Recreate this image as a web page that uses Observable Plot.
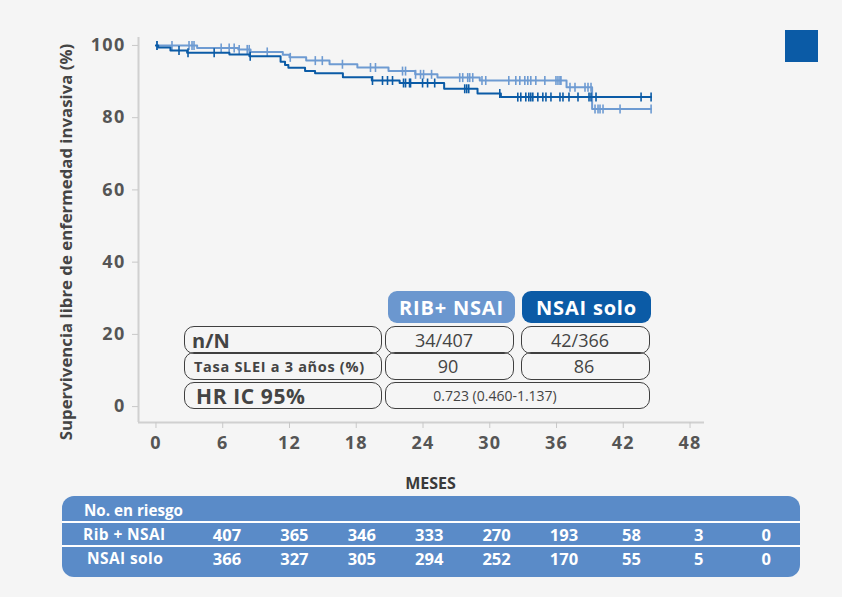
<!DOCTYPE html>
<html>
<head>
<meta charset="utf-8">
<script src="https://cdn.jsdelivr.net/npm/d3@7"></script>
<script src="https://cdn.jsdelivr.net/npm/@observablehq/plot@0.6"></script>
<style>
  html, body { margin: 0; padding: 0; background: #f5f5f5; }
  #wrap { position: relative; width: 842px; height: 597px; overflow: hidden; font-family: 'Open Sans', sans-serif; }
  #wrap svg { position: absolute; left: 0; top: 0; }
  .abs { position: absolute; box-sizing: border-box; display: flex; align-items: center; }
  .box { border: 1.6px solid #3f3f3f; border-radius: 10px; }
  [aria-label="y-axis tick label"] text, [aria-label="x-axis tick label"] text { letter-spacing: 1.3px; }
</style>
</head>
<body>
<div id="wrap"></div>
<script>
// ---------- data ----------
const months = [0, 6, 12, 18, 24, 30, 36, 42, 48];
const yTicks = [0, 20, 40, 60, 80, 100];
const endTime = 44.5;

// RIB + NSAI (light blue) KM steps
const ribTimes = [0, 3.7, 7.4, 8.5, 11.4, 12.0, 13.5, 15.6, 18.1, 20.9, 23.3, 25.3, 29.1, 36.9, 39.2];
const ribSurv  = [100, 99.3, 98.9, 98.2, 97.4, 96.7, 95.8, 94.8, 93.9, 92.9, 92.0, 91.1, 90.3, 88.4, 82.4];
const ribCensor = [0.1, 1.44, 2.97, 3.24, 3.42, 5.86, 6.58, 7.03, 7.48, 8.2, 8.38, 10.0, 12.07, 14.32, 14.95,
  16.76, 19.28, 19.73, 22.16, 22.43, 23.33, 23.78, 24.05, 24.77, 27.3, 27.57, 28.02, 28.2, 28.47, 29.3, 29.64,
  31.71, 32.34, 32.7, 33.15, 33.42, 33.69, 34.14, 34.95, 35.95, 36.13, 36.31, 36.4, 37.21, 37.66, 38.56, 38.83,
  39.1, 39.46, 39.73, 39.91, 40.18, 41.71, 44.5];

// NSAI solo (dark blue) KM steps
const nsaiTimes = [0, 0.2, 1.3, 2.8, 6.6, 8.4, 11.2, 11.6, 11.9, 13.4, 14.3, 16.8, 19.4, 21.9, 25.9, 28.9, 31.0];
const nsaiSurv  = [100, 99.4, 98.6, 98.0, 97.5, 97.0, 95.5, 94.6, 93.8, 92.9, 92.3, 91.2, 90.3, 89.6, 88.0, 86.7, 85.7];
const nsaiCensor = [0.09, 2.07, 2.88, 5.23, 8.47, 19.46, 20.36, 20.81, 21.26, 22.25, 22.43, 22.79, 22.88, 23.96,
  24.41, 25.05, 27.75, 27.93, 28.11, 30.9, 32.52, 32.79, 33.24, 33.51, 33.69, 33.87, 34.32, 34.77, 35.05, 35.5,
  36.31, 36.58, 37.12, 37.93, 38.92, 39.1, 39.55, 43.6, 44.5];

// Risk table
const riskLabels = ["Rib + NSAI", "NSAI solo"];
const riskRib  = [407, 365, 346, 333, 270, 193, 58, 3, 0];
const riskNsai = [366, 327, 305, 294, 252, 170, 55, 5, 0];

// In-chart summary table
const groups = ["RIB+ NSAI", "NSAI solo"];
const nN = ["34/407", "42/366"];
const rate3y = ["90", "86"];
const hrText = "0.723 (0.460-1.137)";

const yTitle = "Supervivencia libre de enfermedad invasiva (%)";
const xTitle = "MESES";

// ---------- helpers ----------
const light = "#6e9bd2";
const dark = "#0b5ba6";
const xDomain = [-1.57, 49.3];
const yDomain = [-4.4, 102.2];

function stepSeries(times, surv, end) {
  const pts = times.map((t, i) => ({t, s: surv[i]}));
  pts.push({t: end, s: surv[surv.length - 1]});
  return pts;
}
function survAt(times, surv, t) {
  let s = surv[0];
  for (let i = 0; i < times.length; i++) if (times[i] <= t) s = surv[i];
  return s;
}
const vtick = {draw(ctx, size) { const r = Math.sqrt(size / Math.PI); ctx.moveTo(0, -r); ctx.lineTo(0, r); }};

const ribLine = stepSeries(ribTimes, ribSurv, endTime);
const nsaiLine = stepSeries(nsaiTimes, nsaiSurv, endTime);
const ribC = ribCensor.map(t => ({t, s: survAt(ribTimes, ribSurv, t)}));
const nsaiC = nsaiCensor.map(t => ({t, s: survAt(nsaiTimes, nsaiSurv, t)}));

const chart = Plot.plot({
  width: 842,
  height: 597,
  marginLeft: 138,
  marginRight: 138,
  marginTop: 37,
  marginBottom: 175,
  x: {domain: xDomain},
  y: {domain: yDomain},
  style: {background: "transparent", fontFamily: "'Open Sans', sans-serif", overflow: "visible"},
  marks: [
    Plot.ruleX([xDomain[0]], {stroke: "#d0d0d0", strokeWidth: 2}),
    Plot.ruleY([yDomain[0]], {stroke: "#d0d0d0", strokeWidth: 2}),
    Plot.axisX({ticks: months, tickSize: 6, tickPadding: 8, stroke: "#c8c8c8", fill: "#555",
      fontSize: 18, fontWeight: "bold", label: null, tickFormat: d => String(d)}),
    Plot.axisY({ticks: yTicks, tickSize: 6, tickPadding: 7, stroke: "#c8c8c8", fill: "#555",
      fontSize: 18, fontWeight: "bold", label: null, tickFormat: d => String(d)}),
    Plot.line(ribLine, {x: "t", y: "s", curve: "step-after", stroke: light, strokeWidth: 2}),
    Plot.dot(ribC, {x: "t", y: "s", symbol: vtick, r: 4.5, fill: "none", stroke: light, strokeWidth: 1.6}),
    Plot.line(nsaiLine, {x: "t", y: "s", curve: "step-after", stroke: dark, strokeWidth: 2}),
    Plot.dot(nsaiC, {x: "t", y: "s", symbol: vtick, r: 4.5, fill: "none", stroke: dark, strokeWidth: 1.6}),
    Plot.text([xTitle], {frameAnchor: "bottom", textAnchor: "middle", dx: 9, dy: 66, fontSize: 16, fontWeight: "bold", fill: "#3a3a3a"})
  ]
});

const wrap = document.getElementById("wrap");
wrap.appendChild(chart);

function add(cls, left, top, w, h, css, text) {
  const d = document.createElement("div");
  d.className = cls;
  d.style.left = left + "px"; d.style.top = top + "px";
  d.style.width = w + "px"; d.style.height = h + "px";
  Object.assign(d.style, css || {});
  if (text != null) d.textContent = text;
  wrap.appendChild(d);
  return d;
}

// y-axis title (rotated), centred at (65, 242)
add("abs", 65 - 250, 242 - 12, 500, 24, {justifyContent: "center", transform: "rotate(-90deg)",
  fontSize: "16.8px", fontWeight: "bold", color: "#444", whiteSpace: "nowrap"}, yTitle);

// top-right square
add("abs", 785, 30, 33, 32, {background: dark});

// group pills
const pillCss = {justifyContent: "center", color: "#fff", fontWeight: "bold", fontSize: "20px", borderRadius: "9px", letterSpacing: "0.8px"};
add("abs", 388, 291, 127, 32, Object.assign({}, pillCss, {background: "#6b97cf"}), groups[0]);
add("abs", 522, 291, 129, 32, Object.assign({}, pillCss, {background: dark}), groups[1]);

// left label boxes
const lblCss = {color: "#444", fontWeight: "bold", justifyContent: "flex-start", whiteSpace: "nowrap"};
add("abs box", 184, 326, 198, 28, Object.assign({}, lblCss, {fontSize: "20px", paddingLeft: "7px"}), "n/N");
add("abs box", 184, 352, 198, 28, Object.assign({}, lblCss, {fontSize: "14.5px", paddingLeft: "9px", letterSpacing: "0.7px"}), "Tasa SLEI a 3 años (%)");
add("abs box", 184, 382, 198, 27, Object.assign({}, lblCss, {fontSize: "21px", paddingLeft: "11px", letterSpacing: "0.6px"}), "HR IC 95%");

// value boxes
const valCss = {color: "#444", justifyContent: "center", fontSize: "18px"};
const colLeft = [385, 521];
for (let i = 0; i < 2; i++) {
  add("abs box", colLeft[i], 326, 129, 28, Object.assign({}, valCss, {paddingRight: "11px"}), nN[i]);
  add("abs box", colLeft[i], 352, 129, 28, Object.assign({}, valCss, {paddingRight: "3px"}), rate3y[i]);
}
add("abs box", 385, 382, 265, 27, {color: "#444", justifyContent: "center", fontSize: "14px", paddingRight: "45px"}, hrText);

// risk table
add("abs", 62, 496, 738, 81, {background: "#5a8bc8", borderRadius: "12px", display: "block"});
add("abs", 62, 521, 738, 2, {background: "#ffffff"});
add("abs", 62, 545, 738, 2, {background: "#ffffff"});
const wCss = {color: "#fff", fontWeight: "bold", whiteSpace: "nowrap"};
add("abs", 84, 499, 200, 22, Object.assign({}, wCss, {fontSize: "15.2px"}), "No. en riesgo");
add("abs", 83, 523, 120, 22, Object.assign({}, wCss, {fontSize: "15.5px", letterSpacing: "0.4px"}), riskLabels[0]);
add("abs", 87, 547, 120, 22, Object.assign({}, wCss, {fontSize: "15.5px", letterSpacing: "0.4px"}), riskLabels[1]);
const rows = [riskRib, riskNsai];
rows.forEach((vals, r) => {
  vals.forEach((v, i) => {
    add("abs", 227 + i * 67.4 - 30, 523 + r * 24, 60, 22,
      Object.assign({}, wCss, {fontSize: "16.5px", justifyContent: "center"}), String(v));
  });
});
</script>
</body>
</html>
